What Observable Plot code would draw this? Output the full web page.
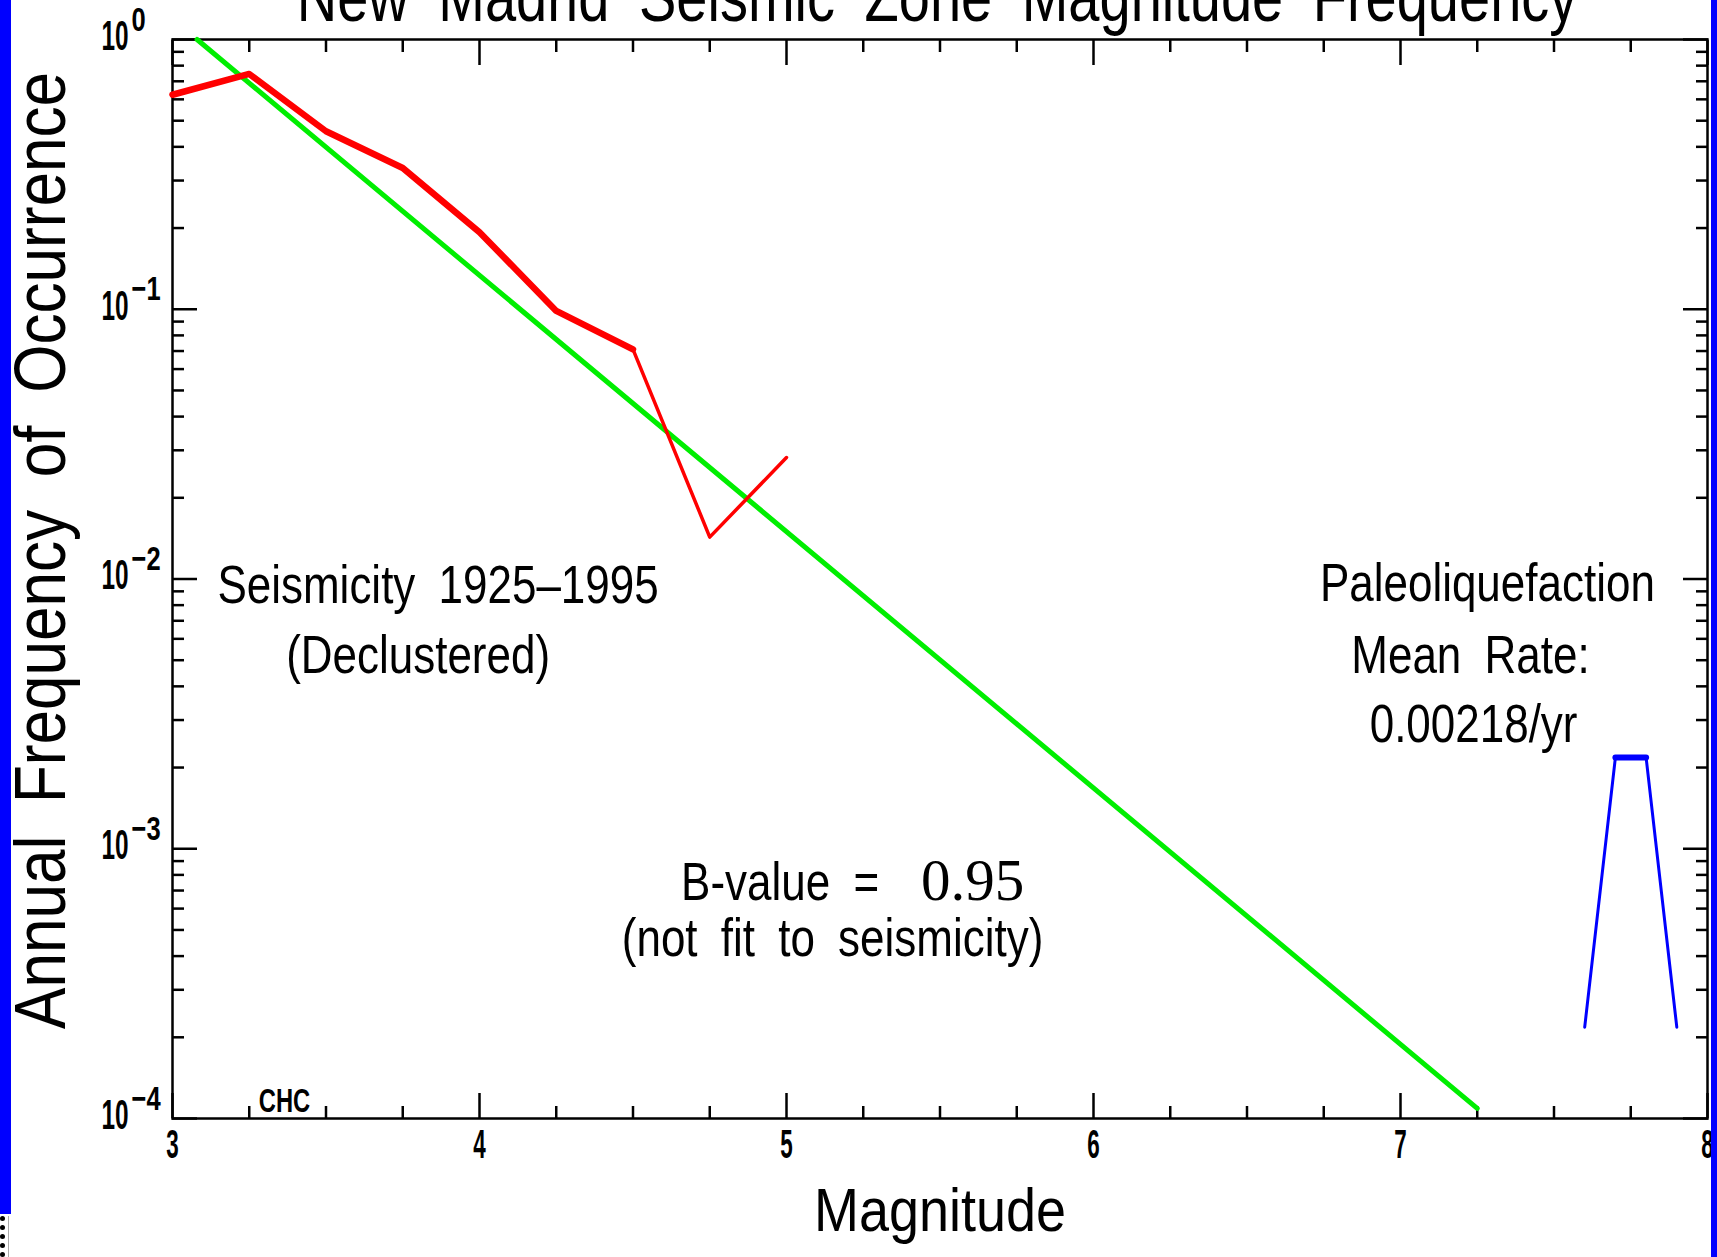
<!DOCTYPE html>
<html>
<head>
<meta charset="utf-8">
<script src="https://cdn.jsdelivr.net/npm/d3@7"></script>
<script src="https://cdn.jsdelivr.net/npm/@observablehq/plot@0.6"></script>
<style>
  html, body { margin: 0; padding: 0; background: #fff; }
  body { width: 1717px; height: 1257px; position: relative; overflow: hidden; }
  #chart { position: absolute; left: 0; top: 0; }
  #chart svg text { word-spacing: 0.25em; }
  .bar-left { position: absolute; left: 0; top: 0; width: 11px; height: 1214px; background: #0000ff; }
  .bar-right { position: absolute; right: 0; top: 0; width: 6px; height: 1257px; background: #0000ff; }
  .stub { position: absolute; left: 0; top: 1216px; width: 3px; height: 41px; border-left: 5px dotted #000; border-right: 1px solid #aaa; }
</style>
</head>
<body>
<div id="chart"></div>
<div class="bar-left"></div>
<div class="bar-right"></div>
<div class="stub"></div>
<script>
// ---------- data ----------
// Declustered seismicity 1925–1995 (annual frequency vs magnitude)
const seisMag  = [3, 3.25, 3.5, 3.75, 4, 4.25, 4.5];
const seisFreq = [0.624, 0.745, 0.457, 0.334, 0.193, 0.0986, 0.071];
const seisTailMag  = [4.5, 4.75, 5];
const seisTailFreq = [0.071, 0.0143, 0.0282];
// Gutenberg–Richter line, b = 0.95
const fitMag  = [3.08, 7.25];
const fitFreq = [1.0, 0.000109];
// Paleoliquefaction mean rate
const paleoMag  = [7.6, 7.7, 7.8, 7.9];
const paleoFreq = [0.000218, 0.00218, 0.00218, 0.000218];
const paleoTopMag  = [7.7, 7.8];
const paleoTopFreq = [0.00218, 0.00218];
// axes
const decades   = [1, 0.1, 0.01, 0.001, 0.0001];
const decadeExp = ["0", "−1", "−2", "−3", "−4"];
const magTicks  = [3, 4, 5, 6, 7, 8];
// texts
const titleText = "New Madrid Seismic Zone Magnitude Frequency";
const yLabel = "Annual Frequency of Occurrence";
const xLabel = "Magnitude";
const noteText = ["Seismicity 1925–1995", "(Declustered)", "Paleoliquefaction", "Mean Rate:", "0.00218/yr", "(not fit to seismicity)"];
const noteMag  = [3.865, 3.800, 7.283, 7.228, 7.238, 5.150];
const noteFreq = [0.00818, 0.00447, 0.00832, 0.00447, 0.00248, 0.000402];
const bText = "B-value =";
const bNumber = "0.95";
const bMag = 5.37, bFreq = 0.000643;
const creditText = "CHC";

// ---------- tables ----------
const zipRows = (ms, fs) => ms.map((m, i) => ({m, f: fs[i]}));
const seis = zipRows(seisMag, seisFreq);
const seisTail = zipRows(seisTailMag, seisTailFreq);
const fit = zipRows(fitMag, fitFreq);
const paleo = zipRows(paleoMag, paleoFreq);
const paleoTop = zipRows(paleoTopMag, paleoTopFreq);
const decadeRows = decades.map((f, i) => ({f, e: decadeExp[i]}));
const notes = noteText.map((t, i) => ({t, m: noteMag[i], f: noteFreq[i]}));

const yMinor = [];
for (const d of [0.0001, 0.001, 0.01, 0.1]) for (let k = 2; k <= 9; k++) yMinor.push(+(k * d).toPrecision(3));
const xMinor = d3.range(3, 8.0001, 0.25).filter(v => Math.abs(v - Math.round(v)) > 1e-9);

const FONT = '"Liberation Sans", Arial, "Noto Sans", sans-serif';
const none = () => "";
const tw = 2.5;
const tick = (o) => ({tickFormat: none, strokeWidth: tw, label: null, ...o});

// font sizes (each size identifies one group of texts for the horizontal squeeze below)
const FS = {title: 70, ylabel: 73, xlabel: 62, note: 53, credit: 33, ytick10: 42, ytickexp: 34, xtick: 40, serif: 59};
const squeeze = {70: 0.8, 73: 0.85, 62: 0.87, 53: 0.83, 33: 0.72, 42: 0.58, 34: 0.75, 40: 0.56};

const chart = Plot.plot({
  width: 1717, height: 1257,
  marginLeft: 172, marginRight: 10, marginTop: 39, marginBottom: 139,
  style: {fontFamily: FONT, background: "white", color: "black"},
  x: {domain: [3, 8], label: null},
  y: {type: "log", domain: [0.0001, 1], label: null},
  marks: [
    // inward ticks on all four sides
    Plot.axisY(tick({anchor: "left", ticks: decades, tickSize: -25})),
    Plot.axisY(tick({anchor: "left", ticks: yMinor, tickSize: -12})),
    Plot.axisY(tick({anchor: "right", ticks: decades, tickSize: -25})),
    Plot.axisY(tick({anchor: "right", ticks: yMinor, tickSize: -12})),
    Plot.axisX(tick({anchor: "top", ticks: magTicks, tickSize: -25})),
    Plot.axisX(tick({anchor: "top", ticks: xMinor, tickSize: -12})),
    Plot.axisX(tick({anchor: "bottom", ticks: magTicks, tickSize: -25})),
    Plot.axisX(tick({anchor: "bottom", ticks: xMinor, tickSize: -12})),
    // x tick labels
    Plot.axisX({anchor: "bottom", ticks: magTicks, tickSize: 0, tickPadding: 11, fontSize: FS.xtick, fontWeight: "bold", label: null, tickFormat: d => String(d)}),
    // y tick labels 10^n
    Plot.text(decadeRows, {y: "f", text: () => "10", frameAnchor: "left", textAnchor: "end", dx: -44, dy: -3, fontSize: FS.ytick10, fontWeight: "bold"}),
    Plot.text(decadeRows, {y: "f", text: "e", frameAnchor: "left", textAnchor: "start", lineAnchor: "bottom", dx: -41, dy: -9, fontSize: FS.ytickexp, fontWeight: "bold"}),
    Plot.frame({stroke: "black", strokeWidth: tw}),
    // data
    Plot.line(fit, {x: "m", y: "f", stroke: "#00ee00", strokeWidth: 5}),
    Plot.line(seis, {x: "m", y: "f", stroke: "#ff0000", strokeWidth: 6.5, strokeLinejoin: "round"}),
    Plot.line(seisTail, {x: "m", y: "f", stroke: "#ff0000", strokeWidth: 3.5}),
    Plot.line(paleo, {x: "m", y: "f", stroke: "#0000ff", strokeWidth: 3}),
    Plot.line(paleoTop, {x: "m", y: "f", stroke: "#0000ff", strokeWidth: 6}),
    // annotations
    Plot.text(notes, {x: "m", y: "f", text: "t", lineAnchor: "bottom", fontSize: FS.note}),
    Plot.text([bText], {x: () => bMag, y: () => bFreq, text: d => d, textAnchor: "end", lineAnchor: "bottom", dx: -21, fontSize: FS.note}),
    Plot.text([bNumber], {x: () => bMag, y: () => bFreq, text: d => d, textAnchor: "start", lineAnchor: "bottom", dx: 21, fontSize: FS.serif, fontFamily: '"Liberation Serif","DejaVu Serif",serif'}),
    Plot.text([creditText], {frameAnchor: "bottom-left", text: d => d, lineAnchor: "bottom", textAnchor: "middle", dx: 112, dy: -7, fontSize: FS.credit, fontWeight: "bold"}),
    // titles
    Plot.text([titleText], {frameAnchor: "top", text: d => d, textAnchor: "middle", lineAnchor: "bottom", dx: -3, dy: -19, fontSize: FS.title}),
    Plot.text([yLabel], {frameAnchor: "left", text: d => d, rotate: -90, textAnchor: "middle", lineAnchor: "bottom", dx: -108, dy: -28.5, fontSize: FS.ylabel}),
    Plot.text([xLabel], {frameAnchor: "bottom", text: d => d, textAnchor: "middle", lineAnchor: "bottom", dy: 112, fontSize: FS.xlabel})
  ]
});

// narrow the letterforms (the original uses a condensed stroke font)
chart.querySelectorAll("text").forEach(t => {
  const g = t.closest("[font-size]");
  if (!g) return;
  const s = squeeze[parseFloat(g.getAttribute("font-size"))];
  if (!s) return;
  const tr = t.getAttribute("transform") || "";
  t.setAttribute("transform", `${tr} scale(${s},1)`);
});
document.getElementById("chart").appendChild(chart);
</script>
</body>
</html>
